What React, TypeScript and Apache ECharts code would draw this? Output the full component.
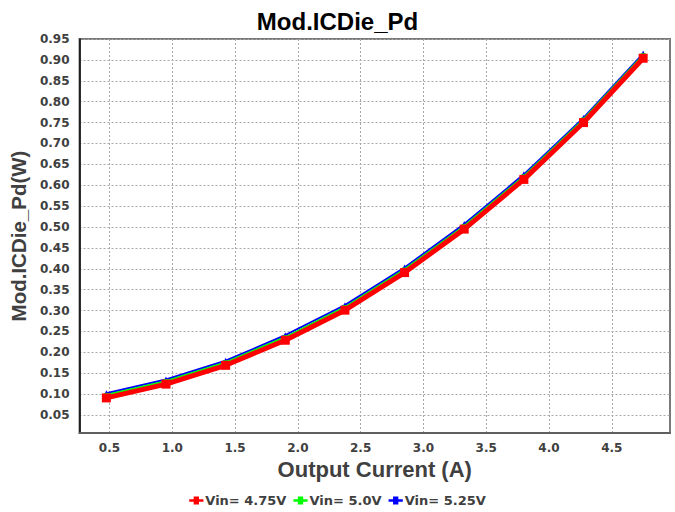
import React, { useEffect, useRef } from "react";
import * as echarts from "echarts";

const currents = [0.475, 0.95, 1.425, 1.9, 2.375, 2.85, 3.325, 3.8, 4.275, 4.75];
const vin475 = [0.091, 0.124, 0.169, 0.229, 0.301, 0.391, 0.495, 0.614, 0.75, 0.904];
const vin500 = [0.097, 0.13, 0.175, 0.235, 0.307, 0.397, 0.501, 0.62, 0.756, 0.91];
const vin525 = [0.102, 0.135, 0.18, 0.241, 0.313, 0.403, 0.507, 0.626, 0.761, 0.915];
const xTicks = [0.5, 1.0, 1.5, 2.0, 2.5, 3.0, 3.5, 4.0, 4.5];
const yTicks = [0.05, 0.1, 0.15, 0.2, 0.25, 0.3, 0.35, 0.4, 0.45, 0.5, 0.55, 0.6, 0.65, 0.7, 0.75, 0.8, 0.85, 0.9, 0.95];
const seriesNames = ["Vin= 4.75V", "Vin= 5.0V", "Vin= 5.25V"];

export default function App() {
  const ref = useRef<HTMLDivElement>(null);
  useEffect(() => {
    const chart = echarts.init(ref.current!, null, { renderer: "svg" });
    const tickFont = {
      fontFamily: "DejaVu Sans",
      fontWeight: "bold" as const,
      fontSize: 12,
      color: "#404040",
    };
    const pair = (ys: number[]) => currents.map((x, i) => [x, ys[i]]);
    const gridLine = { show: true, lineStyle: { type: [2, 2] as any, color: "#a8a8a8", width: 1 } };
    chart.setOption({
      animation: false,
      backgroundColor: "#ffffff",
      title: {
        text: "Mod.ICDie_Pd",
        left: "center",
        top: 4,
        textStyle: { fontFamily: "Liberation Sans", fontWeight: "bold", fontSize: 24, color: "#000" },
      },
      grid: {
        left: 77,
        right: 5,
        top: 39,
        bottom: 79,
        show: true,
        borderColor: "#7a7a7a",
        borderWidth: 2,
      },
      legend: {
        left: "center",
        top: 489,
        itemWidth: 16,
        itemHeight: 8,
        itemGap: 7,
        icon: "path://M0,3h16v3h-16z M5,0h6v9h-6z",
        textStyle: { fontFamily: "DejaVu Sans", fontWeight: "bold", fontSize: 13, color: "#404040", padding: [0, 0, 0, -4] },
        data: seriesNames,
      },
      xAxis: {
        type: "value",
        min: 0.26125,
        max: 4.96375,
        name: "Output Current (A)",
        nameLocation: "middle",
        nameGap: 25,
        nameTextStyle: { fontFamily: "Liberation Sans", fontWeight: "bold", fontSize: 22, color: "#404040" },
        axisLine: { show: true, onZero: false, lineStyle: { color: "#606060", width: 2 } },
        axisTick: { show: false, customValues: xTicks },
        axisLabel: { ...tickFont, margin: 9, customValues: xTicks, formatter: (v: number) => v.toFixed(1) },
        splitLine: gridLine,
      },
      yAxis: {
        type: "value",
        min: 0.007,
        max: 0.95,
        name: "Mod.ICDie_Pd(W)",
        nameLocation: "middle",
        nameGap: 42,
        nameTextStyle: { fontFamily: "Liberation Sans", fontWeight: "bold", fontSize: 20.5, color: "#404040" },
        axisLine: { show: true, onZero: false, lineStyle: { color: "#000", width: 1.5 } },
        axisTick: { show: false, customValues: yTicks },
        axisLabel: { ...tickFont, margin: 10, customValues: yTicks, formatter: (v: number) => v.toFixed(2) },
        splitLine: gridLine,
      },
      series: [
        {
          name: seriesNames[0],
          type: "line",
          data: pair(vin475),
          color: "#ff0000",
          z: 5,
          symbol: "rect",
          symbolSize: 9,
          lineStyle: { width: 5, color: "#ff0000" },
          itemStyle: { color: "#ff0000" },
        },
        {
          name: seriesNames[1],
          type: "line",
          data: pair(vin500),
          color: "#00ff00",
          z: 4,
          symbol: "rect",
          symbolSize: 5,
          lineStyle: { width: 3, color: "#00ff00" },
          itemStyle: { color: "#00ff00" },
        },
        {
          name: seriesNames[2],
          type: "line",
          data: pair(vin525),
          color: "#0000ff",
          z: 3,
          symbol: "triangle",
          symbolSize: 6,
          lineStyle: { width: 2, color: "#0000ff" },
          itemStyle: { color: "#0000ff" },
        },
      ],
    });
    return () => chart.dispose();
  }, []);
  return (
    <div
      ref={ref}
      style={{ position: "fixed", left: 0, top: 0, width: 675, height: 512, background: "#fff" }}
    />
  );
}
